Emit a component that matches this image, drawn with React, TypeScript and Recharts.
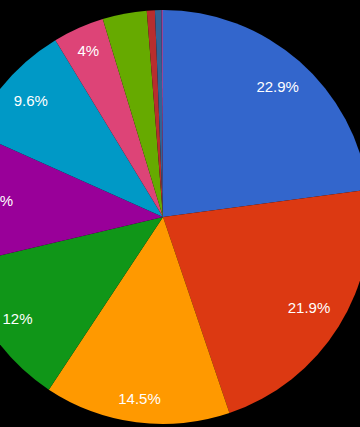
import { Cell, Pie, PieChart } from "recharts";

const names = [
  "A", "B", "C", "D", "E", "F", "G", "H", "I", "J", "K",
];
const shares = [22.9, 21.9, 14.5, 12, 10.4, 9.6, 4, 3.45, 0.63, 0.5, 0.12];
const labels = ["22.9%", "21.9%", "14.5%", "12%", "10.4%", "9.6%", "4%", "", "", "", ""];
const colors = [
  "#3366cc", "#dc3912", "#ff9900", "#109618", "#990099", "#0099c6",
  "#dd4477", "#66aa00", "#b82e2e", "#316395", "#994499",
];

const data = names.map((name, i) => ({ name, value: shares[i], label: labels[i] }));

const RAD = Math.PI / 180;
const FONT = 15;

// rough Arial widths, enough to fit the label box inside the slice
function textWidth(s: string) {
  let w = 0;
  for (const ch of s) {
    if (ch === ".") w += 0.278;
    else if (ch === "%") w += 0.889;
    else w += 0.556;
  }
  return w * FONT;
}

function SliceLabel(props: any) {
  const { cx, cy, midAngle, outerRadius, index } = props;
  const text = labels[index];
  if (!text) return null;
  const ux = Math.cos(-midAngle * RAD);
  const uy = Math.sin(-midAngle * RAD);
  const hw = textWidth(text) / 2;
  const hh = 7.5;
  // push the box out until its far corner sits just inside the rim
  const d = outerRadius - 13;
  const b = Math.abs(ux) * hw + Math.abs(uy) * hh;
  const c = hw * hw + hh * hh - d * d;
  const r = -b + Math.sqrt(b * b - c);
  return (
    <text
      x={cx + r * ux}
      y={cy + r * uy}
      fill="#ffffff"
      textAnchor="middle"
      dominantBaseline="central"
      fontSize={FONT}
      fontFamily="'Liberation Sans', Arial, sans-serif"
    >
      {text}
    </text>
  );
}

export default function App() {
  return (
    <div
      style={{
        position: "absolute",
        top: 0,
        left: 0,
        width: 360,
        height: 427,
        background: "#000000",
        overflow: "hidden",
      }}
    >
      <PieChart width={360} height={427} margin={{ top: 0, right: 0, bottom: 0, left: 0 }}>
        <Pie
          data={data}
          dataKey="value"
          cx={163}
          cy={217}
          outerRadius={207}
          startAngle={90}
          endAngle={-270}
          stroke="none"
          label={SliceLabel}
          labelLine={false}
          isAnimationActive={false}
        >
          {data.map((d, i) => (
            <Cell key={d.name} fill={colors[i]} />
          ))}
        </Pie>
      </PieChart>
    </div>
  );
}
